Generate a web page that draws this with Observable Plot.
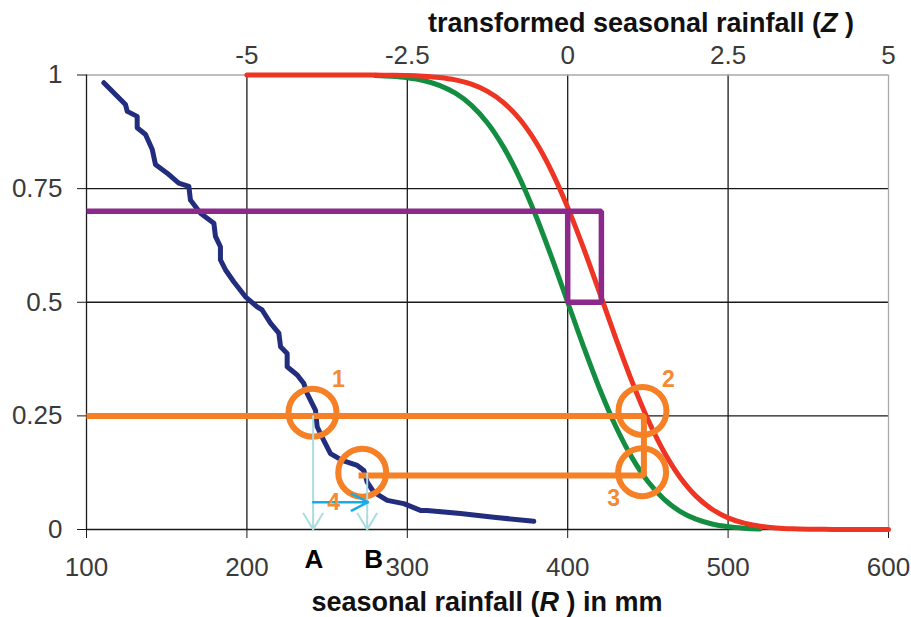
<!DOCTYPE html>
<html><head><meta charset="utf-8">
<script src="https://cdn.jsdelivr.net/npm/d3@7"></script>
<script src="https://cdn.jsdelivr.net/npm/@observablehq/plot@0.6"></script>
<style>body{margin:0;background:#fff} #chart svg{display:block}</style>
</head><body><div id="chart"></div>
<script>
// ticks
const xTicks = [100, 200, 300, 400, 500, 600];
const yTicks = [0, 0.25, 0.5, 0.75, 1];
const yTickLabels = ["0", "0.25", "0.5", "0.75", "1"];
const zTicksR = [200, 300, 400, 500, 600];
const zTickLabels = ["-5", "-2.5", "0", "2.5", "5"];

// green curve (exceedance of fitted distribution)
const greenR = [280,290,300,310,320,330,340,350,360,370,380,390,400,410,420,430,440,450,460,470,480,490,500,510,520];
const greenP = [0.9987,0.9970,0.9938,0.9878,0.9772,0.9599,0.9332,0.8944,0.8413,0.7734,0.6915,0.5987,0.5,0.4013,0.3085,0.2266,0.1587,0.1056,0.0668,0.0401,0.0228,0.0122,0.0062,0.0030,0.0013];

// red curve
const redR = [200,210,220,230,240,250,260,270,280,290,300,310,320,330,340,350,360,370,380,390,400,410,420,430,440,450,460,470,480,490,500,510,520,530,540,550,560,570,580,590,600];
const redP = [1,1,1,1,1,1,0.99997,0.99993,0.9998,0.9995,0.9989,0.9974,0.9946,0.9893,0.9798,0.9641,0.9394,0.9032,0.8531,0.7881,0.7088,0.6179,0.5199,0.4207,0.3264,0.2420,0.1711,0.1151,0.0735,0.0446,0.0256,0.0139,0.0071,0.0035,0.0016,0.0007,0.0003,0.0001,0,0,0];

// navy empirical curve
const navyR = [110.8,120.1,124.3,125.4,131.6,131.6,136.8,141.0,143.0,150.3,157.5,163.8,164.8,171.1,179.4,180.4,183.5,183.5,186.7,191.8,199.1,206.4,209.5,214.7,219.9,221.0,225.1,225.1,231.4,235.5,237.6,242.8,243.8,247.9,252.1,259.4,268.8,272.9,275.0,279.1,287.5,297.8,308.2,312.3,333.2,353.9,378.9];
const navyP = [0.983,0.950,0.935,0.920,0.909,0.884,0.869,0.836,0.803,0.784,0.762,0.755,0.725,0.696,0.674,0.645,0.622,0.593,0.571,0.545,0.512,0.490,0.483,0.454,0.432,0.402,0.387,0.358,0.340,0.321,0.299,0.262,0.226,0.196,0.167,0.152,0.141,0.130,0.104,0.082,0.064,0.057,0.042,0.042,0.035,0.027,0.018];

// purple construction
const purpleR = [100, 421, 421, 400, 400];
const purpleP = [0.7, 0.7, 0.5, 0.5, 0.7];

// orange construction
const orangeR = [100, 447.5, 447.5, 269.6];
const orangeP = [0.25, 0.25, 0.119, 0.119];
const circleR = [240.9, 446.6, 446.4, 271.9];
const circleP = [0.257, 0.261, 0.126, 0.125];
const numLabels = ["1", "2", "3", "4"];
const numR = [257.1, 462.8, 428.6, 254.0];
const numP = [0.329, 0.329, 0.068, 0.060];

// arrows: two vertical drops (A, B) and one shift arrow
const dropR = [241.3, 275.0];
const dropFromP = [0.25, 0.123];
const shiftFromR = [241.3];
const shiftToR = [275.5];
const shiftP = [0.06];
const letterLabels = ["A", "B"];
const letterR = [241.8, 279.0];

const zip = (a, b) => a.map((v, i) => ({r: v, p: b[i]}));
const FONT = "Liberation Sans, Arial, Helvetica, sans-serif";
const black = "#1a1a1a", gray = "#a8a8a8";

const chart = Plot.plot({
  width: 911, height: 617,
  marginLeft: 86, marginRight: 23, marginTop: 74.5, marginBottom: 88,
  style: {fontFamily: FONT, fontSize: "26px", background: "white", overflow: "visible"},
  x: {domain: [100, 600]},
  y: {domain: [0, 1]},
  marks: [
    Plot.ruleX([200, 300, 400, 500], {stroke: black, strokeWidth: 1.3}),
    Plot.ruleY([0.25, 0.5, 0.75], {stroke: black, strokeWidth: 1.3}),
    Plot.ruleY([1], {stroke: gray, strokeWidth: 1.3}),
    Plot.ruleX([600], {stroke: gray, strokeWidth: 1.3}),
    Plot.ruleX([100], {stroke: black, strokeWidth: 1.3}),
    Plot.ruleY([0], {stroke: black, strokeWidth: 1.3}),
    Plot.axisX(xTicks, {anchor: "bottom", tickSize: 9, tickPadding: 19, stroke: black, fill: "#3a3a3a", label: null, tickFormat: d => String(d)}),
    Plot.axisY(yTicks, {anchor: "left", tickSize: 9, tickPadding: 15, stroke: black, fill: "#3a3a3a", label: null, tickFormat: d => yTickLabels[yTicks.indexOf(d)]}),
    Plot.axisX(zTicksR, {anchor: "top", tickSize: 0, tickPadding: 11, fill: "#3a3a3a", label: null, tickFormat: d => zTickLabels[zTicksR.indexOf(d)]}),
    Plot.line(zip(navyR, navyP), {x: "r", y: "p", stroke: "#232d7d", strokeWidth: 5, strokeLinecap: "round"}),
    Plot.line(zip(greenR, greenP), {x: "r", y: "p", stroke: "#138d3f", strokeWidth: 5, curve: "catmull-rom"}),
    Plot.line(zip(redR, redP), {x: "r", y: "p", stroke: "#ee3524", strokeWidth: 5, curve: "catmull-rom"}),
    Plot.line(zip(purpleR, purpleP), {x: "r", y: "p", stroke: "#8c2a8c", strokeWidth: 5.5, strokeLinejoin: "miter", strokeLinecap: "butt"}),
    Plot.line(zip(orangeR, orangeP), {x: "r", y: "p", stroke: "#f58025", strokeWidth: 6, strokeLinejoin: "miter", strokeLinecap: "butt"}),
    Plot.dot(zip(circleR, circleP), {x: "r", y: "p", r: 24, stroke: "#f58025", strokeWidth: 6, fill: "none"}),
    Plot.arrow(dropR.map((v, i) => ({x1: v, y1: dropFromP[i], x2: v, y2: 0})), {
      x1: "x1", y1: "y1", x2: "x2", y2: "y2",
      stroke: "#a9dde0", strokeWidth: 2, headLength: 14, headAngle: 62
    }),
    Plot.arrow(shiftFromR.map((v, i) => ({x1: v, y1: shiftP[i], x2: shiftToR[i], y2: shiftP[i]})), {
      x1: "x1", y1: "y1", x2: "x2", y2: "y2",
      stroke: "#17ace6", strokeWidth: 2.5, headLength: 12, headAngle: 54
    }),
    Plot.text(numLabels.map((t, i) => ({t, r: numR[i], p: numP[i]})), {x: "r", y: "p", text: "t", fill: "#f58a35", fontSize: 23, fontWeight: "bold", fontFamily: FONT}),
    Plot.text(letterLabels.map((t, i) => ({t, r: letterR[i], p: 0})), {x: "r", y: "p", text: "t", fill: "#000", fontSize: 26, fontWeight: "bold", fontFamily: FONT, dy: 30})
  ]
});

document.getElementById("chart").appendChild(chart);

const svg = d3.select(chart);
const xs = chart.scale("x");
function title(x, y, parts) {
  const t = svg.append("text").attr("x", x).attr("y", y).attr("text-anchor", "middle")
    .attr("font-family", FONT).attr("font-size", 27).attr("font-weight", "bold").attr("fill", "#111");
  parts.forEach(([s, it]) => { const sp = t.append("tspan").text(s); if (it) sp.attr("font-style", "italic"); });
}
title(xs.apply(350), 611, [["seasonal rainfall ("], ["R", true], [" ) in mm"]]);
title(641, 32, [["transformed seasonal rainfall ("], ["Z", true], [" )"]]);
</script>
</body></html>
